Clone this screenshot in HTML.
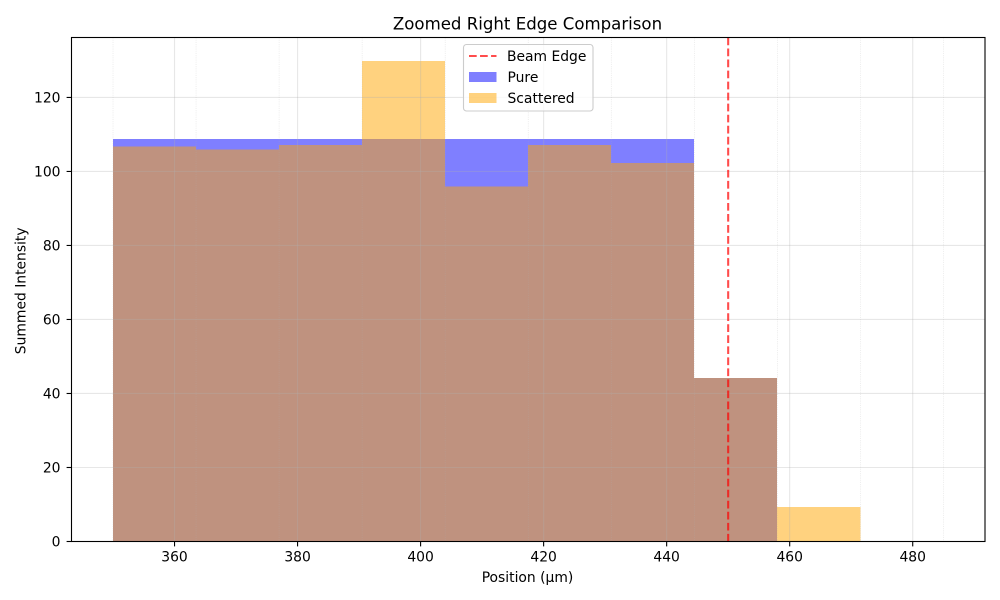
<!DOCTYPE html>
<html lang="en">
<head>
<meta charset="utf-8">
<title>Zoomed Right Edge Comparison</title>
<style>
html,body{margin:0;padding:0;background:#fff;width:1000px;height:600px;overflow:hidden}
svg{display:block}
text{font-family:"DejaVu Sans","Liberation Sans",sans-serif;fill:#000}
</style>
</head>
<body>
<svg id="chart" xmlns="http://www.w3.org/2000/svg" width="1000" height="600" viewBox="0 0 1000 600">
<rect x="0" y="0" width="1000" height="600" fill="#fff"/>
<g id="bars"></g>
<g id="grid"></g>
<g id="overlays"></g>
<g id="axes"></g>
<text x="527.5" y="29.5" font-size="16.6" text-anchor="middle">Zoomed Right Edge Comparison</text>
<text x="527.5" y="582" font-size="13.89" text-anchor="middle">Position (µm)</text>
<text transform="translate(25.4 290.8) rotate(-90)" font-size="13.89" text-anchor="middle">Summed Intensity</text>
<g id="legend">
<rect x="463.5" y="44.5" width="129.5" height="66.5" rx="3" fill="#fff" fill-opacity="0.8" stroke="#ccc" stroke-width="1.1"/>
<line x1="469" y1="56" x2="496.5" y2="56" stroke="#ff0000" stroke-opacity="0.7" stroke-width="2.08" stroke-dasharray="7.7 3.33"/>
<text x="507" y="61" font-size="13.89">Beam Edge</text>
<rect x="469" y="72" width="27.5" height="10" fill="#0000ff" fill-opacity="0.5"/>
<text x="507.5" y="82" font-size="13.89">Pure</text>
<rect x="469" y="93" width="27.5" height="10" fill="#ffa500" fill-opacity="0.5"/>
<text x="507.5" y="103" font-size="13.89">Scattered</text>
</g>
</svg>
<script>
const binEdges = [350, 363.5, 377, 390.5, 404, 417.5, 431, 444.5, 458, 471.5, 485];
const pureValues = [108.8, 108.8, 108.8, 108.8, 108.8, 108.8, 108.8, 44.2, 0, 0];
const scatteredValues = [106.7, 105.9, 107.2, 129.9, 95.9, 107.2, 102.3, 44.2, 9.3, 0];
const xTicks = [360, 380, 400, 420, 440, 460, 480];
const yTicks = [0, 20, 40, 60, 80, 100, 120];
const beamEdge = [450];

const NS = 'http://www.w3.org/2000/svg';
const plot = { left: 71.5, right: 985, top: 37.5, bottom: 541.5 };
const xDomain = [343.25, 491.75];
const yDomain = [0, 136.2];
const barSnap = -0.15;

function xScale(v) {
  return plot.left + (v - xDomain[0]) / (xDomain[1] - xDomain[0]) * (plot.right - plot.left);
}
function yScale(v) {
  return plot.bottom - (v - yDomain[0]) / (yDomain[1] - yDomain[0]) * (plot.bottom - plot.top);
}
function make(tag, parent, props) {
  const el = document.createElementNS(NS, tag);
  for (const k in props) el.setAttribute(k, props[k]);
  parent.appendChild(el);
  return el;
}

const gridG = document.getElementById('grid');
const barsG = document.getElementById('bars');
const overlayG = document.getElementById('overlays');
const axesG = document.getElementById('axes');

xTicks.forEach(function (t) {
  const el = make('line', gridG, { x1: xScale(t), x2: xScale(t), y1: plot.top, y2: plot.bottom, stroke: '#b0b0b0', 'stroke-opacity': 0.3, 'stroke-width': 1.1 });
  
  
});
yTicks.forEach(function (t) {
  const el = make('line', gridG, { x1: plot.left, x2: plot.right, y1: yScale(t), y2: yScale(t), stroke: '#b0b0b0', 'stroke-opacity': 0.3, 'stroke-width': 1.1 });
  
  
});
binEdges.forEach(function (t) {
  const el = make('line', gridG, { x1: xScale(t), x2: xScale(t), y1: plot.top, y2: plot.bottom, stroke: '#b0b0b0', 'stroke-opacity': 0.3, 'stroke-width': 0.7, 'stroke-dasharray': '1.1 1.1' });
  
  
});

function drawSeries(values, color, name) {
  values.forEach(function (v, i) {
    if (v <= 0) return;
    const x0 = xScale(binEdges[i]) + barSnap;
    const x1 = xScale(binEdges[i + 1]) + barSnap;
    const el = make('rect', barsG, { x: x0, y: yScale(v), width: x1 - x0, height: yScale(0) - yScale(v), fill: color, 'fill-opacity': 0.5, 'shape-rendering': 'crispEdges' });
    
    
  });
}
drawSeries(pureValues, '#0000ff', 'pure');
drawSeries(scatteredValues, '#ffa500', 'scattered');

beamEdge.forEach(function (v) {
  const el = make('line', overlayG, { x1: xScale(v), x2: xScale(v), y1: plot.top, y2: plot.bottom, stroke: '#ff0000', 'stroke-opacity': 0.7, 'stroke-width': 2.08, 'stroke-dasharray': '7.7 3.33' });
  
  
});

const spine = make('rect', axesG, { x: plot.left, y: plot.top, width: plot.right - plot.left, height: plot.bottom - plot.top, fill: 'none', stroke: '#000', 'stroke-width': 1.1 });



xTicks.forEach(function (t) {
  const x = xScale(t);
  const mark = make('line', axesG, { x1: x, x2: x, y1: plot.bottom, y2: plot.bottom + 4.9, stroke: '#000', 'stroke-width': 1.1 });
  
  
  const label = make('text', axesG, { x: x, y: plot.bottom + 20, 'font-size': 13.89, 'text-anchor': 'middle' });
  label.textContent = String(t);
  
  
});
yTicks.forEach(function (t) {
  const y = yScale(t);
  const mark = make('line', axesG, { x1: plot.left - 4.9, x2: plot.left, y1: y, y2: y, stroke: '#000', 'stroke-width': 1.1 });
  
  
  const label = make('text', axesG, { x: plot.left - 11, y: y + 5, 'font-size': 13.89, 'text-anchor': 'end' });
  label.textContent = String(t);
  
  
});
</script>
</body>
</html>
